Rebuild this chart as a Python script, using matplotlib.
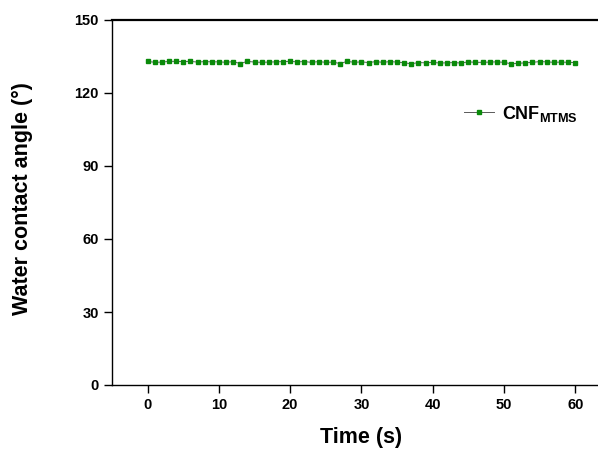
import matplotlib
matplotlib.use("Agg")
import matplotlib.pyplot as plt

plt.rcParams['font.family'] = ['Liberation Sans', 'DejaVu Sans']
plt.rcParams['font.weight'] = 'bold'

time_s = list(range(0, 61))
contact_angle = [
    133.0, 132.6, 132.7, 133.0, 133.0, 132.9, 133.0, 132.7, 132.9, 132.8,
    132.8, 132.6, 132.9, 132.1, 133.0, 132.7, 132.6, 132.7, 132.8, 132.9,
    133.0, 132.8, 132.9, 132.6, 132.9, 132.6, 132.7, 132.1, 133.0, 132.6,
    132.8, 132.5, 132.9, 132.6, 132.9, 132.7, 132.4, 132.0, 132.5, 132.4,
    132.6, 132.3, 132.4, 132.5, 132.3, 132.8, 132.6, 132.6, 132.7, 132.8,
    132.6, 132.0, 132.2, 132.4, 132.6, 132.9, 132.8, 132.6, 132.7, 132.6,
    132.5,
]
series_label = r'CNF$_{\mathregular{MTMS}}$'
x_ticks = [0, 10, 20, 30, 40, 50, 60]
y_ticks = [0, 30, 60, 90, 120, 150]

fig = plt.figure(figsize=(5.98, 4.5), dpi=100)
ax = fig.add_axes([112/598, 1-385/450, 1-112/598, (385-20)/450])

ax.plot(time_s, contact_angle, color='#5a5a5a', lw=0.7, marker='s', ms=2.9,
        mfc='#0a8a0a', mec='#0a8a0a', label=series_label)

ax.set_xlim(-5, 63.2)
ax.set_ylim(0, 150)
ax.set_xticks(x_ticks)
ax.set_yticks(y_ticks)
ax.tick_params(direction='out', length=6, width=1, labelsize=10.5, pad=3.5)
for lab in ax.get_xticklabels() + ax.get_yticklabels():
    lab.set_fontweight('bold')

ax.spines['right'].set_visible(False)
for s in ['left', 'bottom', 'top']:
    ax.spines[s].set_linewidth(1.0)
ax.spines['top'].set_linewidth(1.6)

ax.set_xlabel('Time (s)', fontsize=15.5, fontweight='bold')
ax.xaxis.set_label_coords((361-112)/486, -(438-385)/365)
ax.xaxis.label.set_va('center')
ax.set_ylabel('Water contact angle (°)', fontsize=15.5, fontweight='bold')
ax.yaxis.set_label_coords(-(112-22)/486, (385-199)/365)
ax.yaxis.label.set_va('center')

leg = ax.legend(loc='upper left', bbox_to_anchor=(0.69, 0.815), frameon=False,
                fontsize=13, handlelength=1.7, handletextpad=0.4)
for t in leg.get_texts():
    t.set_fontweight('bold')

fig.savefig('out.png', dpi=100)
